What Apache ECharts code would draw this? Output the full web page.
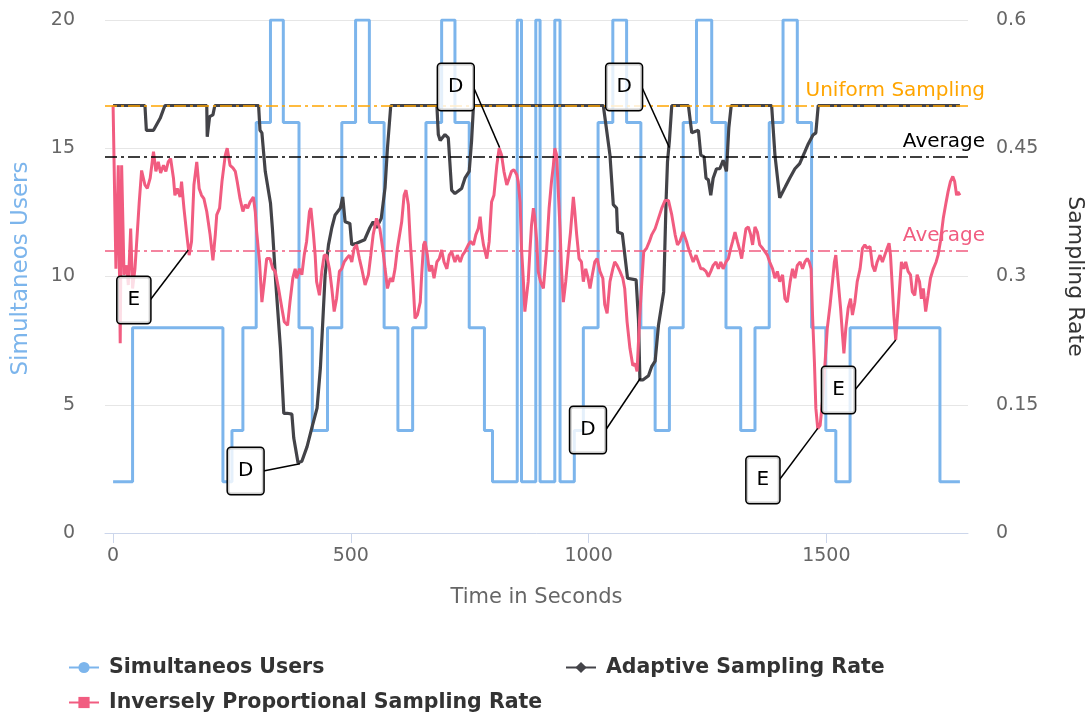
<!DOCTYPE html>
<html>
<head>
<meta charset="utf-8">
<script src="https://cdn.jsdelivr.net/npm/echarts@6/dist/echarts.min.js"></script>
<style>
html,body{margin:0;padding:0;background:#fff;}
#chart{width:1086px;height:715px;}
</style>
</head>
<body>
<div id="chart"></div>
<script>
// ---- data ----
const xTicks = [0, 500, 1000, 1500];

// Simultaneous users: [time, users] (value holds from time onward)
const usersSteps = [[0,2],[41,8],[231,2],[250,4],[273,8],[301,16],[331,20],[358,16],[391,8],[419,4],[451,8],[481,16],[510,20],[539,16],[570,8],[599,4],[630,8],[658,16],[691,20],[719,16],[749,8],[781,4],[798,2],[850,20],[859,2],[889,20],[898,2],[929,20],[940,2],[970,4],[989,8],[1020,16],[1051,20],[1080,16],[1110,8],[1140,4],[1170,8],[1199,16],[1227,20],[1259,16],[1289,8],[1320,4],[1350,8],[1380,16],[1409,20],[1439,16],[1469,8],[1499,4],[1520,2],[1550,8],[1739,2],[1781,2]];

// Adaptive sampling rate: [time, rate]
const adaptiveRate = [[0,0.5],[67,0.5],[70,0.471],[85,0.471],[99,0.485],[109,0.5],[197,0.5],[198,0.4635],[203,0.487],[210,0.489],[214,0.5],[306,0.5],[309,0.471],[313,0.468],[320,0.423],[331,0.386],[335,0.357],[342,0.294],[352,0.216],[359,0.140],[366,0.140],[376,0.139],[380,0.111],[389,0.082],[397,0.084],[408,0.101],[418,0.123],[429,0.146],[436,0.193],[440,0.236],[446,0.302],[453,0.337],[460,0.357],[467,0.372],[478,0.380],[483,0.393],[488,0.364],[498,0.362],[502,0.337],[512,0.339],[529,0.343],[540,0.357],[547,0.364],[554,0.357],[564,0.368],[572,0.404],[577,0.450],[584,0.5],[681,0.5],[684,0.466],[688,0.459],[698,0.466],[705,0.462],[712,0.401],[719,0.397],[733,0.403],[740,0.415],[749,0.423],[754,0.459],[758,0.5],[1031,0.5],[1038,0.471],[1045,0.442],[1052,0.384],[1059,0.380],[1061,0.352],[1071,0.350],[1082,0.298],[1100,0.296],[1105,0.249],[1108,0.179],[1114,0.179],[1126,0.184],[1133,0.195],[1140,0.201],[1147,0.243],[1158,0.282],[1163,0.388],[1166,0.434],[1170,0.459],[1175,0.5],[1210,0.5],[1217,0.468],[1231,0.471],[1236,0.442],[1243,0.440],[1247,0.415],[1252,0.413],[1257,0.395],[1262,0.415],[1269,0.426],[1276,0.426],[1283,0.436],[1290,0.423],[1295,0.474],[1300,0.5],[1385,0.5],[1392,0.442],[1402,0.392],[1413,0.404],[1423,0.415],[1434,0.426],[1444,0.432],[1455,0.446],[1462,0.455],[1472,0.4655],[1478,0.468],[1483,0.5],[1781,0.5]];

// Inversely proportional sampling rate: [time, rate]
const inverseRate = [[0,0.5],[2,0.5],[6,0.309],[11,0.430],[15,0.222],[18,0.430],[23,0.302],[29,0.313],[32,0.290],[37,0.356],[41,0.286],[46,0.309],[51,0.352],[55,0.387],[60,0.424],[67,0.407],[72,0.403],[78,0.415],[85,0.446],[90,0.423],[95,0.434],[100,0.421],[106,0.430],[111,0.423],[116,0.434],[121,0.438],[127,0.415],[130,0.395],[135,0.403],[141,0.393],[144,0.411],[149,0.380],[155,0.349],[160,0.325],[165,0.341],[170,0.407],[176,0.434],[181,0.403],[186,0.395],[191,0.391],[197,0.376],[204,0.349],[210,0.319],[215,0.349],[218,0.372],[224,0.380],[229,0.411],[236,0.442],[240,0.450],[246,0.430],[252,0.427],[257,0.423],[261,0.411],[267,0.391],[273,0.376],[278,0.384],[283,0.380],[288,0.387],[295,0.393],[299,0.376],[302,0.352],[308,0.317],[313,0.270],[318,0.294],[323,0.321],[330,0.321],[336,0.309],[341,0.306],[348,0.286],[355,0.263],[360,0.247],[367,0.243],[372,0.270],[378,0.298],[383,0.309],[386,0.298],[392,0.309],[397,0.302],[402,0.325],[407,0.341],[413,0.376],[416,0.380],[421,0.352],[425,0.325],[428,0.294],[434,0.278],[439,0.306],[444,0.325],[449,0.325],[455,0.309],[460,0.286],[465,0.259],[470,0.274],[476,0.306],[481,0.309],[486,0.317],[491,0.321],[497,0.325],[502,0.317],[507,0.333],[512,0.337],[518,0.321],[523,0.309],[530,0.290],[537,0.302],[542,0.325],[547,0.349],[554,0.368],[561,0.356],[567,0.333],[572,0.309],[577,0.286],[583,0.298],[588,0.294],[593,0.309],[598,0.333],[602,0.333],[607,0.364],[612,0.395],[616,0.401],[621,0.384],[625,0.341],[628,0.317],[632,0.282],[635,0.251],[640,0.255],[646,0.270],[649,0.302],[653,0.337],[656,0.341],[661,0.325],[665,0.306],[670,0.313],[675,0.298],[681,0.317],[686,0.321],[691,0.331],[696,0.317],[702,0.309],[707,0.325],[712,0.329],[719,0.317],[724,0.325],[730,0.317],[735,0.325],[740,0.329],[747,0.337],[752,0.341],[758,0.337],[763,0.349],[768,0.356],[772,0.370],[775,0.352],[779,0.337],[786,0.321],[791,0.341],[796,0.387],[801,0.395],[807,0.430],[812,0.450],[817,0.442],[822,0.423],[828,0.407],[833,0.415],[838,0.423],[843,0.425],[849,0.419],[852,0.411],[856,0.387],[859,0.333],[863,0.294],[866,0.259],[870,0.257],[873,0.294],[877,0.333],[880,0.360],[884,0.380],[887,0.368],[891,0.341],[894,0.306],[899,0.294],[905,0.286],[908,0.306],[912,0.333],[917,0.380],[922,0.411],[926,0.430],[929,0.450],[933,0.442],[936,0.403],[940,0.356],[943,0.309],[947,0.270],[952,0.294],[957,0.325],[962,0.352],[968,0.393],[971,0.376],[975,0.349],[980,0.321],[985,0.317],[989,0.294],[994,0.309],[999,0.298],[1003,0.286],[1008,0.302],[1013,0.317],[1018,0.321],[1024,0.306],[1030,0.298],[1034,0.267],[1039,0.257],[1045,0.294],[1051,0.309],[1055,0.317],[1060,0.313],[1066,0.306],[1072,0.298],[1076,0.286],[1081,0.247],[1087,0.216],[1093,0.196],[1098,0.198],[1102,0.189],[1107,0.247],[1112,0.294],[1116,0.329],[1122,0.333],[1128,0.341],[1133,0.349],[1140,0.356],[1147,0.368],[1154,0.380],[1161,0.389],[1168,0.389],[1175,0.372],[1182,0.349],[1187,0.337],[1192,0.341],[1199,0.352],[1206,0.341],[1210,0.333],[1215,0.325],[1220,0.317],[1226,0.325],[1231,0.317],[1236,0.309],[1241,0.309],[1247,0.306],[1252,0.300],[1257,0.306],[1262,0.313],[1268,0.317],[1273,0.309],[1278,0.317],[1283,0.309],[1289,0.317],[1294,0.321],[1299,0.333],[1303,0.341],[1308,0.352],[1313,0.341],[1317,0.333],[1322,0.321],[1327,0.341],[1331,0.356],[1336,0.358],[1341,0.349],[1345,0.337],[1350,0.358],[1355,0.352],[1360,0.337],[1366,0.333],[1371,0.329],[1376,0.325],[1381,0.317],[1387,0.309],[1392,0.298],[1397,0.306],[1402,0.294],[1408,0.302],[1413,0.274],[1418,0.270],[1424,0.294],[1429,0.309],[1434,0.298],[1439,0.313],[1445,0.317],[1450,0.309],[1455,0.317],[1460,0.321],[1464,0.317],[1468,0.309],[1471,0.255],[1475,0.200],[1478,0.146],[1482,0.122],[1487,0.126],[1492,0.154],[1497,0.196],[1502,0.239],[1508,0.267],[1513,0.294],[1517,0.317],[1520,0.325],[1525,0.294],[1530,0.263],[1534,0.232],[1537,0.210],[1541,0.239],[1546,0.263],[1551,0.274],[1555,0.255],[1560,0.270],[1565,0.294],[1571,0.309],[1576,0.333],[1581,0.337],[1586,0.333],[1592,0.335],[1597,0.313],[1602,0.306],[1607,0.317],[1613,0.325],[1618,0.317],[1623,0.325],[1628,0.333],[1632,0.339],[1635,0.325],[1639,0.286],[1642,0.255],[1646,0.226],[1651,0.263],[1655,0.294],[1658,0.317],[1663,0.309],[1667,0.317],[1672,0.306],[1677,0.302],[1681,0.282],[1686,0.278],[1691,0.302],[1696,0.294],[1700,0.274],[1704,0.286],[1709,0.259],[1714,0.278],[1719,0.298],[1725,0.309],[1731,0.317],[1735,0.325],[1740,0.341],[1746,0.368],[1752,0.387],[1756,0.399],[1761,0.411],[1766,0.417],[1770,0.411],[1774,0.395],[1777,0.399],[1781,0.395]];

// reference lines (sampling-rate axis)
const uniformRate = 0.5;
const adaptiveAvg = 0.44;
const inverseAvg = 0.326;

// annotations: label, box anchor (right-middle of box), target point
const annoLabels  = ['E', 'D', 'D', 'D', 'D', 'E', 'E'];
const annoBoxX    = [78, 316, 758, 1112, 1036, 1401, 1560];
const annoBoxY    = [0.2725, 0.0725, 0.5216, 0.5216, 0.1205, 0.062, 0.1673];
const annoTargetX = [158, 393, 813, 1170, 1109, 1482, 1646];
const annoTargetY = [0.331, 0.081, 0.4507, 0.4507, 0.181, 0.1224, 0.2257];

// ---- chart ----
const FONT = 'DejaVu Sans';
const chart = echarts.init(document.getElementById('chart'), null, {renderer: 'canvas'});

const dashDot = [12, 4, 3, 4];

const annoPoints = annoLabels.map((t, i) => ({value: [annoBoxX[i], annoBoxY[i]], label: {formatter: t}}));
const annoLines = annoLabels.map((t, i) => [{coord: [annoBoxX[i], annoBoxY[i]]}, {coord: [annoTargetX[i], annoTargetY[i]]}]);

const legendText = {fontFamily: FONT, fontSize: 20.5, fontWeight: 'bold', color: '#333', padding: [0, 0, 0, 5]};
function legendItem(name, left, top) {
  return {data: [name], orient: 'horizontal', left: left, top: top,
    itemWidth: 30, itemHeight: 14, padding: 0, textStyle: legendText};
}

const option = {
  animation: false,
  textStyle: {fontFamily: FONT},
  grid: {left: 105, right: 118, top: 20, bottom: 182, containLabel: false, outerBoundsMode: 'none'},
  legend: [
    legendItem('Simultaneos Users', 68, 657),
    legendItem('Adaptive Sampling Rate', 565, 657),
    legendItem('Inversely Proportional Sampling Rate', 68, 692)
  ],
  xAxis: {
    type: 'value', min: -17, max: 1798,
    name: 'Time in Seconds', nameLocation: 'middle', nameGap: 54,
    nameTextStyle: {fontFamily: FONT, fontSize: 21, color: '#666'},
    axisLine: {show: true, lineStyle: {color: '#ccd6eb', width: 1}},
    axisTick: {show: true, length: 10, customValues: xTicks, lineStyle: {color: '#ccd6eb'}},
    axisLabel: {customValues: xTicks, margin: 14, fontSize: 19, color: '#666', fontFamily: FONT,
      formatter: v => String(v)},
    splitLine: {show: false}
  },
  yAxis: [
    {
      type: 'value', min: 0, max: 20, interval: 5, position: 'left',
      name: 'Simultaneos Users', nameLocation: 'middle', nameGap: 72, nameRotate: 90,
      nameTextStyle: {fontFamily: FONT, fontSize: 23, color: '#7cb5ec', padding: [0, 0, 0, 16]},
      axisLine: {show: false}, axisTick: {show: false},
      axisLabel: {margin: 30, fontSize: 19, color: '#666', fontFamily: FONT},
      splitLine: {show: true, lineStyle: {color: '#e6e6e6', width: 1}}
    },
    {
      type: 'value', min: 0, max: 0.6, interval: 0.15, position: 'right',
      name: 'Sampling Rate', nameLocation: 'middle', nameGap: 96, nameRotate: -90,
      nameTextStyle: {fontFamily: FONT, fontSize: 22, color: '#333'},
      axisLine: {show: false}, axisTick: {show: false},
      axisLabel: {margin: 28, fontSize: 19, color: '#666', fontFamily: FONT},
      splitLine: {show: false}
    }
  ],
  series: [
    {
      name: 'Simultaneos Users', type: 'line', yAxisIndex: 0, step: 'end',
      data: usersSteps, showSymbol: false, symbol: 'circle', symbolSize: 13,
      color: '#7cb5ec', lineStyle: {width: 3, color: '#7cb5ec'}, z: 2
    },
    {
      name: 'Adaptive Sampling Rate', type: 'line', yAxisIndex: 1,
      data: adaptiveRate, showSymbol: false, symbol: 'diamond', symbolSize: 14,
      color: '#434348', lineStyle: {width: 3.2, color: '#434348'}, z: 3,
      markLine: {
        silent: true, symbol: ['none', 'none'],
        data: [
          {yAxis: uniformRate, lineStyle: {color: '#FFA500', type: dashDot, width: 1.5},
           label: {show: true, formatter: 'Uniform Sampling', position: 'insideEndTop', distance: [-17, 5], color: '#FFA500', fontSize: 20, fontFamily: FONT}},
          {yAxis: adaptiveAvg, lineStyle: {color: '#000', type: dashDot, width: 1.5},
           label: {show: true, formatter: 'Average', position: 'insideEndTop', distance: [-17, 5], color: '#000', fontSize: 20, fontFamily: FONT}}
        ]
      }
    },
    {
      name: 'Inversely Proportional Sampling Rate', type: 'line', yAxisIndex: 1,
      data: inverseRate, showSymbol: false, symbol: 'rect', symbolSize: 13,
      color: '#f15c80', lineStyle: {width: 3, color: '#f15c80'}, z: 4,
      markLine: {
        silent: true, symbol: ['none', 'none'],
        data: [
          {yAxis: inverseAvg, lineStyle: {color: '#f15c80', type: dashDot, width: 1.5},
           label: {show: true, formatter: 'Average', position: 'insideEndTop', distance: [-17, 5], color: '#f15c80', fontSize: 20, fontFamily: FONT}}
        ]
      }
    },
    {
      name: 'annotations', type: 'scatter', yAxisIndex: 1, z: 10,
      symbolSize: 0.01, itemStyle: {color: '#000', opacity: 1},
      emphasis: {disabled: true},
      data: annoPoints,
      label: {
        show: true, position: 'left', distance: 0,
        fontSize: 20, fontFamily: FONT, color: '#000', lineHeight: 22,
        backgroundColor: 'rgba(255,255,255,0.8)', borderColor: '#000', borderWidth: 1.5, borderRadius: 3,
        padding: [12, 10, 12, 10]
      },
      markLine: {
        silent: true, symbol: ['none', 'none'],
        lineStyle: {color: '#000', type: 'solid', width: 1.5},
        label: {show: false},
        data: annoLines
      }
    }
  ]
};
chart.setOption(option);
</script>
</body>
</html>
